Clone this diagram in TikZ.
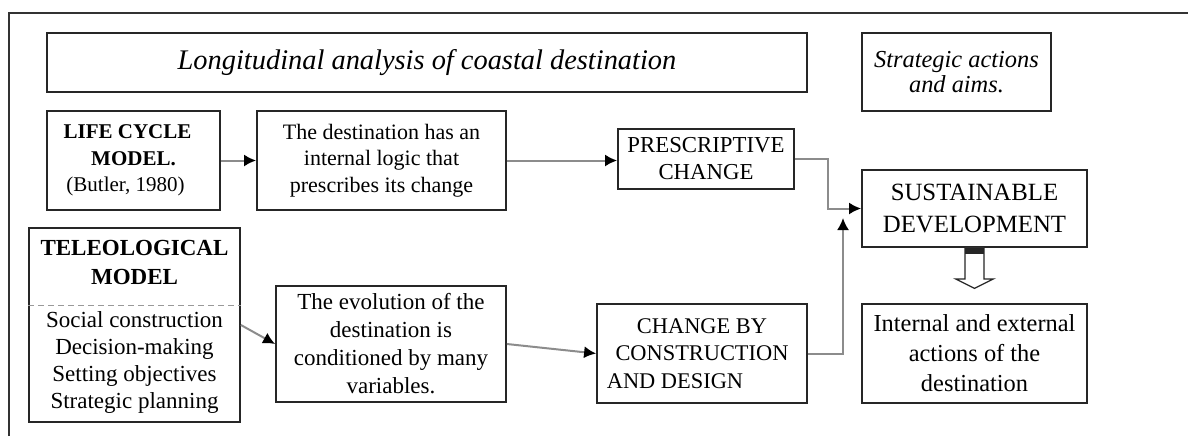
\documentclass[tikz,border=0pt]{standalone}
\usepackage{fontspec}
\setmainfont{Liberation Serif}
\usetikzlibrary{arrows.meta}

\def\bodyfont{\fontsize{11.5}{13.5}\selectfont}
\def\capsfont{\fontsize{11.4}{13.5}\selectfont}

\begin{document}
\begin{tikzpicture}[x=0.5pt, y=-0.5pt,
    box/.style={draw=black!85, line width=0.9pt, inner sep=0pt, align=center, font=\bodyfont},
    link/.style={draw=black!45, line width=1pt, -{Latex[black, length=6pt, width=6pt]}}]
    \useasboundingbox (0,0) rectangle (1188,436);
    % frame of the figure
    \draw[black!80, line width=1pt] (9,436) -- (9,13) -- (1188,13);

    % headings
    \node[box, minimum width=380pt, minimum height=29.5pt, font=\fontsize{14.2}{16}\selectfont\itshape] (title) at (427,62.5)
        {Longitudinal analysis of coastal destination};
    \node[box, minimum width=94.5pt, minimum height=39pt, font=\fontsize{12.2}{12.5}\selectfont\itshape] (aims) at (956.5,72)
        {Strategic actions\\and aims.};

    % upper row
    \node[box, minimum width=86.5pt, minimum height=49.5pt, font=\fontsize{10.5}{13.25}\selectfont] (life) at (133.5,160.5)
        {\textbf{LIFE CYCLE}\hspace*{6pt}\\\textbf{MODEL.}\hspace*{6pt}\\(Butler, 1980)\hspace*{8pt}};
    \node[box, minimum width=124.5pt, minimum height=49.5pt, font=\fontsize{11}{13.25}\selectfont] (logic) at (381.5,160.5)
        {The destination has an\\internal logic that\\prescribes its change};
    \node[box, minimum width=88pt, minimum height=30pt, font=\capsfont] (presc) at (706,159)
        {PRESCRIPTIVE\\CHANGE};
    \node[box, minimum width=112.5pt, minimum height=38.5pt, font=\fontsize{12.4}{16}\selectfont] (sust) at (974.5,208.5)
        {SUSTAINABLE\\DEVELOPMENT};

    % lower row
    \node[box, minimum width=105.5pt, minimum height=97pt] (teleo) at (134.5,325) {};
    \node[font=\bfseries\fontsize{11.5}{14.5}\selectfont, align=center] (teleohead) at (134.5,262.5)
        {TELEOLOGICAL\\MODEL};
    \node[font=\bodyfont, align=center] (teleolist) at (134.5,362.5)
        {Social construction\\Decision-making\\Setting objectives\\Strategic planning};
    \coordinate (divide) at (0,305);
    \draw[black!40, densely dashed, line width=0.5pt] (teleo.west |- divide) -- (teleo.east |- divide);

    \node[box, minimum width=115pt, minimum height=58pt, font=\fontsize{11.5}{14}\selectfont] (evol) at (391,344)
        {The evolution of the\\destination is\\conditioned by many\\variables.};
    \node[box, minimum width=105pt, minimum height=49.5pt, font=\fontsize{11.2}{13.75}\selectfont] (change) at (702,353.5)
        {CHANGE BY\\CONSTRUCTION\\AND DESIGN\hspace*{27pt}};
    \node[box, minimum width=112.5pt, minimum height=49.5pt, font=\fontsize{12.2}{15}\selectfont] (actions) at (974.5,353.5)
        {Internal and external\\actions of the\\destination};

    % connectors
    \coordinate (rise) at (843,218);
    \draw[link] (life) -- (logic);
    \draw[link] (logic.east) -- (logic.east -| presc.west);
    \draw[link] (presc.east) -- ++(33,0) |- (sust.west);
    \draw[link] (change.east) -| (rise);
    \draw[link] (teleo.east) -- (evol.west);
    \draw[link] (evol.east) -- (change.west);

    % hollow arrow down
    \draw[black!85, line width=0.6pt, fill=white] (sust.south) ++(-9.5,0) -- ++(0,31) -- ++(-9.5,0)
        -- ++(19,9.5) -- ++(19,-9.5) -- ++(-9.5,0) -- ++(0,-31) -- cycle;
    \fill[black!85] (sust.south) ++(-9.5,0) rectangle ++(19,6);
\end{tikzpicture}
\end{document}
